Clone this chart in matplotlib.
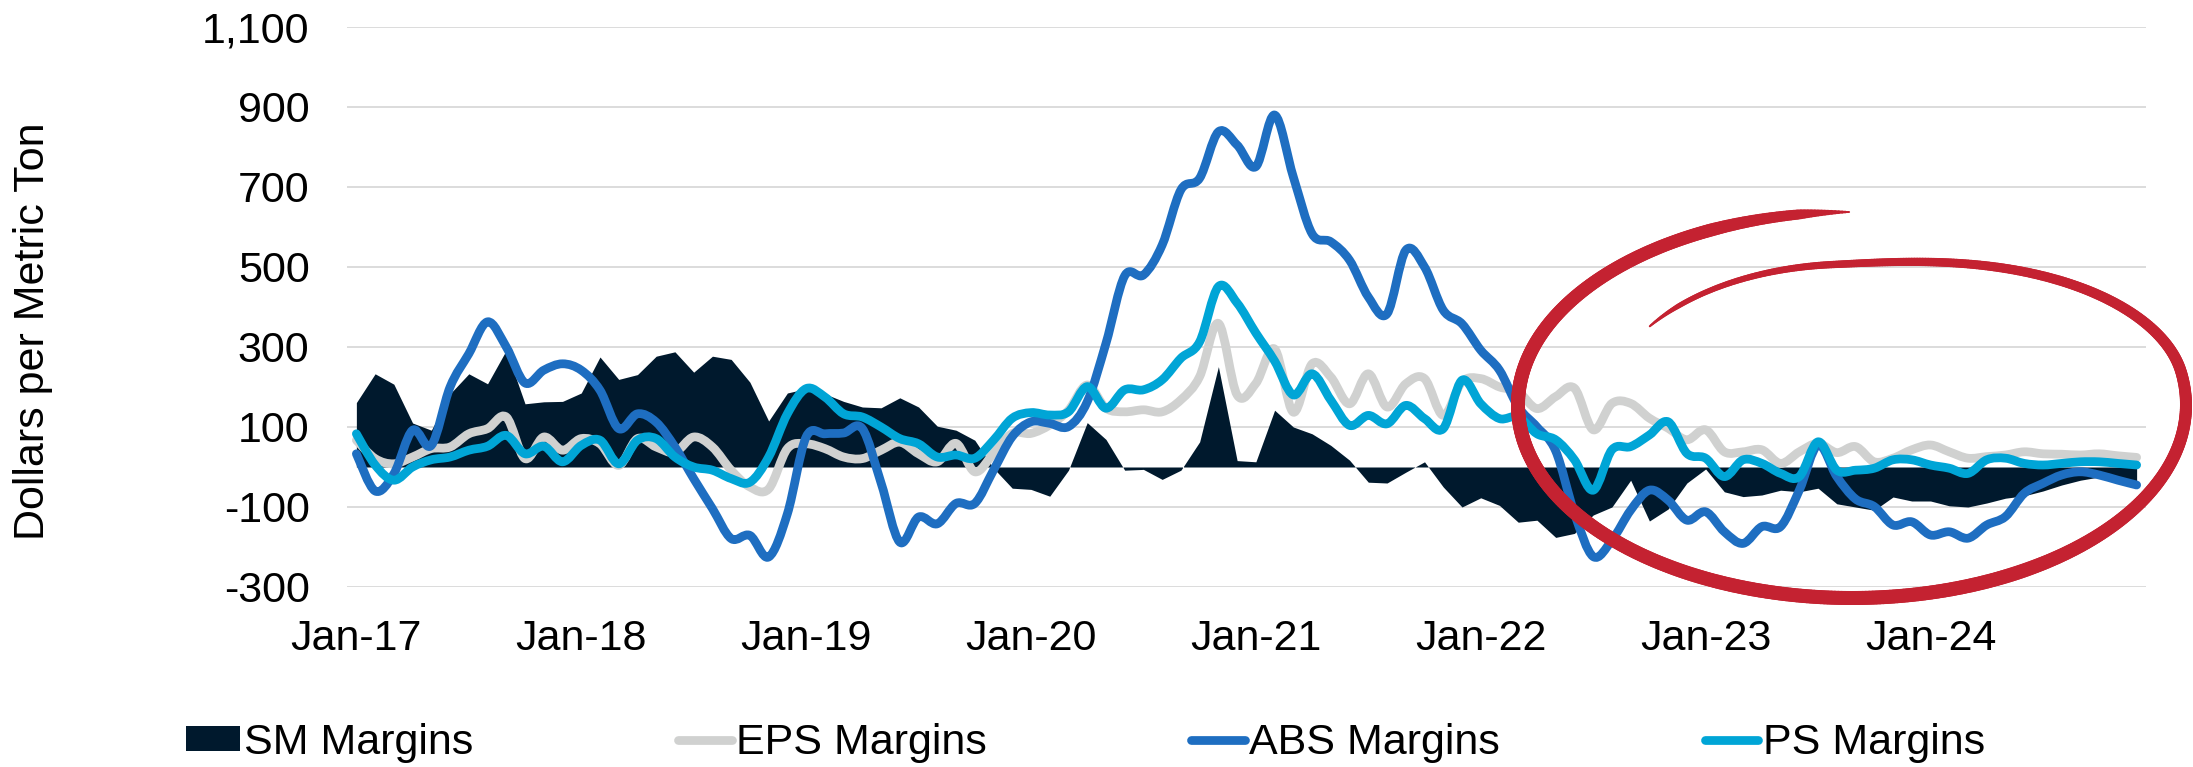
import matplotlib
matplotlib.use("Agg")
import matplotlib.pyplot as plt
import numpy as np
from matplotlib.path import Path
from matplotlib.patches import PathPatch, Patch
from matplotlib.lines import Line2D
from matplotlib.collections import LineCollection
from matplotlib.ticker import FuncFormatter

plt.rcParams["font.family"] = ["Liberation Sans", "DejaVu Sans"]

# monthly margins, Jan-17 .. Dec-24 (USD per metric ton)
tick_labels = ["Jan-17", "Jan-18", "Jan-19", "Jan-20", "Jan-21", "Jan-22", "Jan-23", "Jan-24"]

sm = [161, 233, 207, 110, 92, 183, 233, 208, 292, 158, 163, 164,
      185, 275, 219, 231, 277, 288, 237, 277, 269, 212, 115, 185,
      196, 183, 164, 150, 148, 173, 150, 102, 92, 67, -3, -53,
      -56, -73, -8, 111, 69, -8, -6, -31, -8, 63, 251, 16,
      13, 142, 100, 83, 54, 17, -38, -40, -13, 13, -50, -100,
      -77, -96, -138, -133, -176, -166, -120, -100, -33, -135, -105, -40,
      -5, -62, -74, -70, -58, -62, -53, -92, -100, -108, -75, -85,
      -85, -97, -100, -90, -78, -72, -60, -45, -33, -25, -28, -35]

eps = [67, 21, 8, 25, 46, 50, 83, 96, 125, 21, 75, 42,
       71, 58, 4, 71, 50, 37, 75, 50, -8, -50, -55, 46,
       58, 46, 25, 21, 42, 62, 33, 13, 59, -12, 34, 84,
       84, 105, 142, 205, 147, 138, 143, 138, 168, 226, 359, 180,
       209, 295, 137, 258, 225, 158, 233, 150, 208, 221, 129, 213,
       221, 200, 188, 146, 176, 197, 93, 159, 159, 122, 97, 68,
       93, 38, 38, 43, 9, 38, 59, 36, 51, 13, 22, 43,
       55, 38, 22, 26, 30, 38, 33, 32, 30, 33, 28, 24]

abs_m = [33, -60, -17, 92, 54, 200, 283, 363, 300, 210, 242, 258,
         242, 192, 96, 133, 112, 50, -29, -104, -179, -171, -225, -117,
         75, 83, 85, 96, -40, -188, -125, -142, -91, -91, -8, 76,
         113, 109, 101, 163, 309, 478, 480, 555, 693, 722, 838, 805,
         751, 880, 725, 583, 563, 517, 425, 383, 542, 500, 392, 358,
         292, 242, 150, 100, 40, -116, -224, -183, -108, -58, -83, -133,
         -112, -162, -191, -149, -149, -58, 55, -24, -80, -99, -145, -137,
         -170, -162, -178, -145, -124, -66, -41, -20, -12, -20, -33, -45]

ps = [83, 5, -33, 0, 18, 25, 42, 52, 79, 33, 52, 13,
      54, 67, 8, 67, 71, 25, 0, -8, -29, -38, 25, 133,
      196, 175, 133, 125, 100, 71, 58, 25, 30, 22, 67, 122,
      136, 130, 138, 201, 147, 193, 193, 218, 272, 313, 451, 410,
      335, 265, 180, 233, 167, 104, 129, 108, 154, 121, 96, 217,
      158, 121, 125, 83, 68, 18, -58, 43, 51, 80, 113, 34,
      22, -24, 18, 9, -16, -24, 63, -8, -8, -3, 18, 18,
      5, -3, -16, 18, 22, 9, 5, 9, 13, 13, 9, 5]

C_SM = "#00192D"
C_EPS = "#D0D1D0"
C_ABS = "#1E6EC1"
C_PS = "#00A5D6"
C_RED = "#C42231"
FS = 31


def smooth_path(x, y):
    # Excel-style smoothed line: cubic Bezier through every point
    pts = np.column_stack([x, y]).astype(float)
    n = len(pts)
    verts = [pts[0]]
    codes = [Path.MOVETO]
    for i in range(n - 1):
        p0 = pts[max(i - 1, 0)]
        p1, p2 = pts[i], pts[i + 1]
        p3 = pts[min(i + 2, n - 1)]
        verts += [p1 + (p2 - p0) / 6, p2 - (p3 - p1) / 6, p2]
        codes += [Path.CURVE4] * 3
    return Path(verts, codes)


W, H = 2193, 767
fig = plt.figure(figsize=(W / 100, H / 100), dpi=100)
ax = fig.add_axes([347 / W, (H - 587) / H, (2146 - 347) / W, (587 - 27) / H])

x = np.arange(len(sm))
ax.fill_between(x, 0, sm, color=C_SM, lw=0, zorder=2)
for vals, col in [(eps, C_EPS), (abs_m, C_ABS), (ps, C_PS)]:
    ax.add_patch(PathPatch(smooth_path(x, vals), fill=False, edgecolor=col, lw=6.3,
                           capstyle="round", joinstyle="round", zorder=3))

ax.set_xlim(-0.5, len(sm) - 0.5)
ax.set_ylim(-300, 1100)
ax.set_yticks(np.arange(-300, 1101, 200))
ax.yaxis.set_major_formatter(FuncFormatter(lambda v, _: f"{v:,.0f}"))
ax.set_xticks(np.arange(0, len(sm), 12))
ax.set_xticklabels(tick_labels)
ax.grid(axis="y", color="#D9D9D9", lw=1.3, zorder=0)
ax.set_axisbelow(True)
for s in ax.spines.values():
    s.set_visible(False)
ax.tick_params(axis="both", length=0, labelsize=FS, colors="black")
ax.tick_params(axis="y", pad=27)
ax.tick_params(axis="x", pad=23)

fig.text(33 / W, 1 - 331 / H, "Dollars per Metric Ton", rotation=90,
         ha="center", va="center", fontsize=FS)

handles = [Patch(facecolor=C_SM, edgecolor="none"),
           Line2D([], [], color=C_EPS, lw=6.3, solid_capstyle="round"),
           Line2D([], [], color=C_ABS, lw=6.3, solid_capstyle="round"),
           Line2D([], [], color=C_PS, lw=6.3, solid_capstyle="round")]
labels = ["SM Margins", "EPS Margins", "ABS Margins", "PS Margins"]
fig.legend(handles, labels, loc="center left", bbox_to_anchor=(186 / W, 1 - 743 / H),
           ncol=4, frameon=False, fontsize=FS, handlelength=1.25, handleheight=0.52,
           handletextpad=0.1, columnspacing=4.75, borderpad=0, borderaxespad=0)

# hand-drawn red ellipse around 2022-2024
cx, cy, rx, ry = 1852, 405, 334, 193
th = np.radians(np.linspace(90.5, 506, 700))
deg = np.degrees(th)
t = np.clip((deg - 370) / 85, 0, 1)
scale = 1 - 0.27 * (3 * t ** 2 - 2 * t ** 3)
px = cx + rx * scale * np.cos(th)
py = cy - ry * scale * np.sin(th)
pts = np.column_stack([px / W, 1 - py / H])
segs = np.stack([pts[:-1], pts[1:]], axis=1)
wpx = np.interp(deg[:-1], [90.5, 99, 115, 180, 300, 360, 420, 460, 495, 506],
                [2, 10, 13, 14, 14, 12, 9, 7, 5, 2])
lc = LineCollection(segs, linewidths=wpx * 0.72, colors=C_RED, capstyle="round",
                    transform=fig.transFigure, zorder=10)
fig.add_artist(lc)

fig.savefig("out.png", dpi=100)
